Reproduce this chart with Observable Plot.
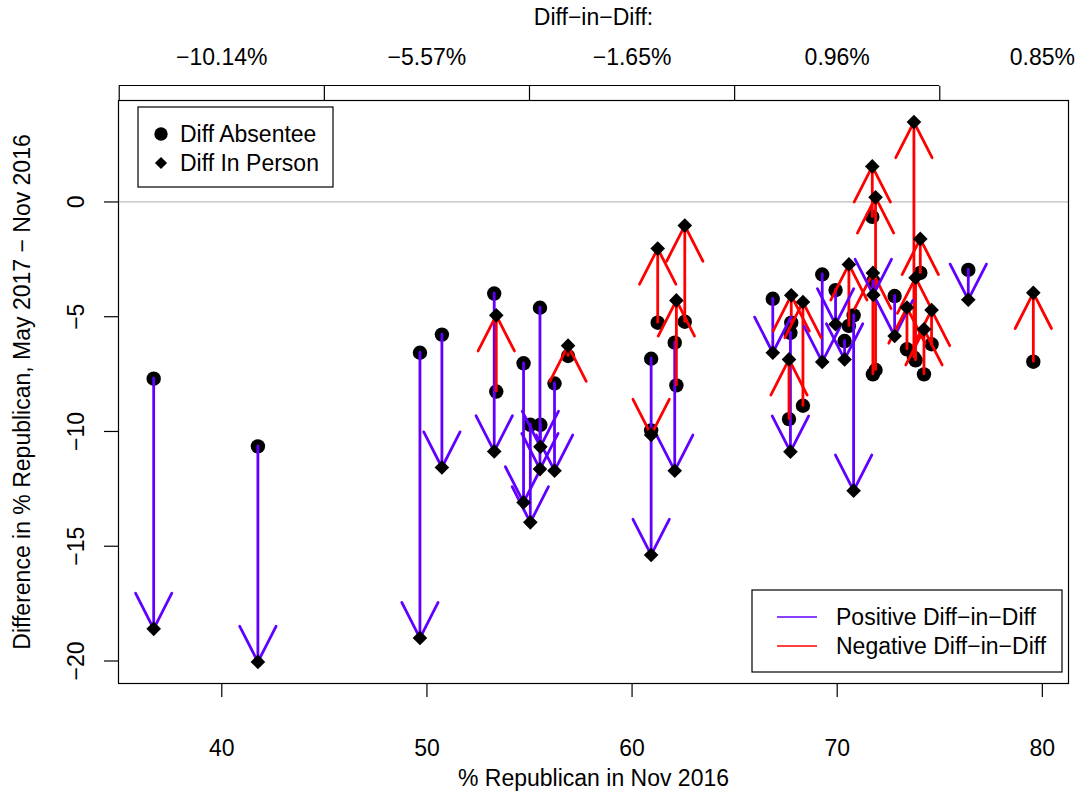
<!DOCTYPE html>
<html><head><meta charset="utf-8">
<script src="https://cdn.jsdelivr.net/npm/d3@7"></script>
<script src="https://cdn.jsdelivr.net/npm/@observablehq/plot@0.6"></script>
<style>
body{margin:0;background:#fff}
svg{font-family:"Liberation Sans",Arial,Helvetica,sans-serif}
</style>
</head><body><div id="chart"></div>
<script>
// % Republican in Nov 2016 (x), with the two differences (y)
const pctRep = [36.68,41.76,49.66,50.73,53.28,53.38,54.71,55.04,55.51,55.53,56.22,56.88,60.93,60.93,61.25,62.08,62.16,62.57,66.86,67.76,67.72,67.65,68.33,69.27,69.92,70.57,70.80,70.36,71.71,71.87,71.74,71.76,72.80,73.40,73.74,73.82,74.05,74.23,74.60,76.39,79.56];
const diffAbsentee = [-7.70,-10.65,-6.57,-5.78,-3.99,-8.26,-7.03,-9.71,-4.61,-9.71,-7.91,-6.71,-6.83,-9.95,-5.26,-6.13,-7.99,-5.22,-4.22,-5.26,-5.70,-9.46,-8.88,-3.16,-3.84,-5.40,-4.94,-6.06,-0.65,-7.32,-7.51,-3.45,-4.10,-6.42,-6.78,-6.90,-3.09,-7.51,-6.20,-2.96,-6.96];
const diffInPerson = [-18.60,-20.04,-19.00,-11.57,-10.87,-4.94,-13.09,-13.96,-11.64,-10.67,-11.71,-6.26,-15.38,-10.15,-2.03,-11.71,-4.29,-1.03,-6.57,-4.07,-10.88,-6.86,-4.36,-6.97,-5.33,-2.72,-12.58,-6.86,1.55,0.20,-3.09,-4.05,-5.84,-4.60,3.48,-3.30,-1.61,-5.55,-4.71,-4.26,-3.96];
const ddSign = ["Positive","Positive","Positive","Positive","Positive","Negative","Positive","Positive","Positive","Positive","Positive","Negative","Positive","Negative","Negative","Positive","Negative","Negative","Positive","Negative","Positive","Negative","Negative","Positive","Positive","Negative","Positive","Positive","Negative","Negative","Negative","Positive","Positive","Negative","Negative","Negative","Negative","Negative","Negative","Positive","Negative"];

const xTicks = [40,50,60,70,80];
const yTicks = [-20,-15,-10,-5,0];
const topTicks = [35,45,55,65,75];
const topLabelAt = [40,50,60,70,80];
const topLabels = ["\u221210.14%","\u22125.57%","\u22121.65%","0.96%","0.85%"];
const groups = ["Positive","Negative"];
const groupColors = ["#6200ff","#ff0000"];

const data = pctRep.map((x,i)=>({x, a: diffAbsentee[i], p: diffInPerson[i], g: ddSign[i]}));
const heads = data.flatMap(d => {
  const base = d.p < d.a ? 0 : 180;
  return [{...d, rot: base - 27}, {...d, rot: base + 27}];
});
const xe = d3.extent(pctRep), ye = d3.extent([...diffAbsentee, ...diffInPerson]);
const px = (xe[1]-xe[0])*0.04, py = (ye[1]-ye[0])*0.04;
const xDom = [xe[0]-px, xe[1]+px], yDom = [ye[0]-py, ye[1]+py];
const fmt = d => d < 0 ? "\u2212" + (-d) : String(d);
const line = {draw(ctx, l){ ctx.moveTo(0,0); ctx.lineTo(0,-l); }};
const FS = 23;

const chart = Plot.plot({
  width: 1076, height: 796,
  marginTop: 100, marginLeft: 118, marginRight: 8, marginBottom: 113,
  style: {fontFamily: "'Liberation Sans', Arial, sans-serif", fontSize: FS+"px", color: "black", background: "white", overflow: "visible"},
  x: {domain: xDom},
  y: {domain: yDom},
  color: {domain: groups, range: groupColors},
  marks: [
    Plot.ruleY([0], {stroke: "#bebebe", strokeWidth: 1.2}),
    Plot.frame({stroke: "black", strokeWidth: 1.2}),
    Plot.axisX({anchor: "bottom", ticks: xTicks, tickSize: 14, tickPadding: 42, label: null, fontSize: FS, strokeWidth: 1.2}),
    Plot.axisY({anchor: "left", ticks: yTicks, tickSize: 14, tickPadding: 21, tickRotate: -90, tickFormat: fmt, label: null, fontSize: FS, strokeWidth: 1.2}),
    Plot.axisX({anchor: "top", ticks: topTicks, tickSize: 15, tickFormat: () => "", label: null, strokeWidth: 1.2}),
    Plot.ruleY([yDom[1]], {x1: topTicks[0], x2: topTicks[topTicks.length-1], dy: -15, stroke: "black", strokeWidth: 1.2}),
    Plot.text(topLabelAt, {x: d => d, text: (d,i) => topLabels[i], frameAnchor: "top", lineAnchor: "middle", dy: -43, fontSize: FS}),
    Plot.text(["Diff\u2212in\u2212Diff:"], {frameAnchor: "top", lineAnchor: "middle", dy: -83, fontSize: FS}),
    Plot.text(["% Republican in Nov 2016"], {frameAnchor: "bottom", lineAnchor: "middle", dy: 95, fontSize: FS}),
    Plot.text(["Difference in % Republican, May 2017 \u2212 Nov 2016"], {frameAnchor: "left", textAnchor: "middle", lineAnchor: "middle", dx: -96, rotate: -90, fontSize: FS}),
    Plot.dot(data, {x: "x", y: "a", r: 7.2, fill: "black", stroke: "none", symbol: "circle"}),
    Plot.ruleX(data, {x: "x", y1: "a", y2: "p", stroke: "g", strokeWidth: 2.8, strokeLinecap: "round"}),
    Plot.vector(heads, {x: "x", y: "p", rotate: "rot", length: 40, anchor: "start", stroke: "g", strokeWidth: 2.8, strokeLinecap: "round", shape: line}),
    Plot.dot(data, {x: "x", y: "p", r: 6.6, fill: "black", stroke: "none", symbol: "diamond2"})
  ]
});
document.getElementById("chart").appendChild(chart);

// Legends (layout only)
const svg = d3.select(chart);
const L1 = svg.append("g").attr("font-size", FS).attr("text-anchor", "start");
L1.append("rect").attr("x",138).attr("y",107).attr("width",195).attr("height",80).attr("fill","white").attr("stroke","black").attr("stroke-width",1.2);
L1.append("circle").attr("cx",161).attr("cy",134).attr("r",6.7).attr("fill","black");
L1.append("path").attr("d", d3.symbol(d3.symbolDiamond2, 95)()).attr("transform","translate(161,163)").attr("fill","black");
L1.append("text").attr("x",180).attr("y",134).attr("dy","0.35em").text("Diff Absentee");
L1.append("text").attr("x",180).attr("y",163).attr("dy","0.35em").text("Diff In Person");

const L2 = svg.append("g").attr("font-size", FS).attr("text-anchor", "start");
L2.append("rect").attr("x",752).attr("y",590).attr("width",310).attr("height",82).attr("fill","white").attr("stroke","black").attr("stroke-width",1.2);
const labs2 = ["Positive Diff\u2212in\u2212Diff","Negative Diff\u2212in\u2212Diff"];
labs2.forEach((t,i) => {
  const yy = 617 + i*29;
  L2.append("line").attr("x1",777).attr("x2",817).attr("y1",yy).attr("y2",yy).attr("stroke",groupColors[i]).attr("stroke-width",1.5);
  L2.append("text").attr("x",836).attr("y",yy).attr("dy","0.35em").text(t);
});
</script>
</body></html>
